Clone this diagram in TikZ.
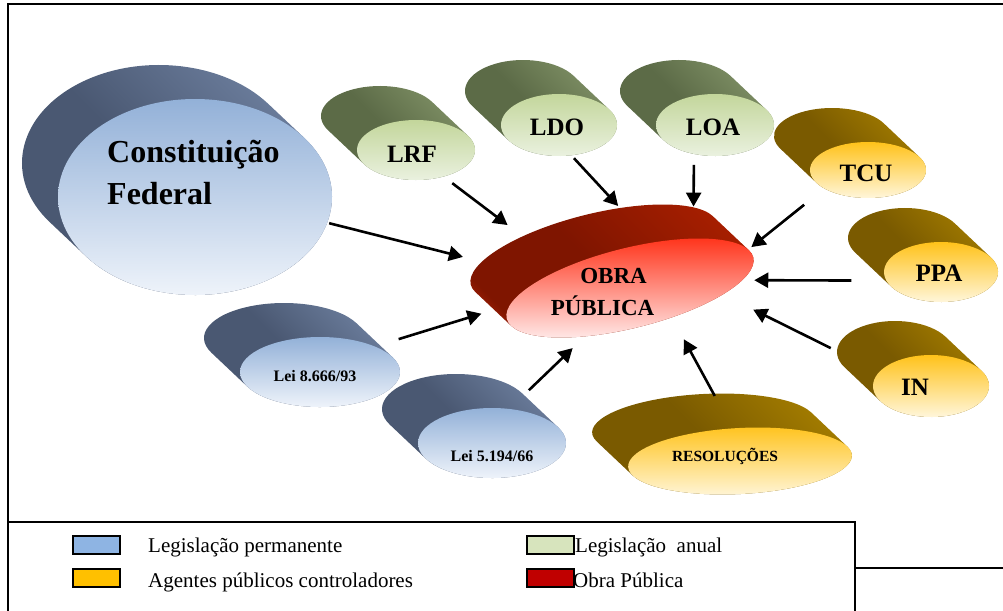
\documentclass[tikz,border=0pt]{standalone}
\usepackage{fontspec}
\setmainfont{Liberation Serif}
\usepackage{tikz}
\usetikzlibrary{
  arrows.meta,
  shapes.geometric,
  positioning,
  calc
}
% face / side colours per group
\definecolor{obPermTop}{HTML}{93B1D8}
\definecolor{obPermLow}{HTML}{EEF3FA}
\definecolor{obPermSide}{HTML}{4A5872}
\definecolor{obPermRim}{HTML}{8DA3C6}
\definecolor{obPermBack}{HTML}{7E92B4}
\definecolor{obAnualTop}{HTML}{C3D69B}
\definecolor{obAnualLow}{HTML}{EAF1DF}
\definecolor{obAnualSide}{HTML}{5C6B47}
\definecolor{obAnualRim}{HTML}{A9BB8C}
\definecolor{obAnualBack}{HTML}{92A476}
\definecolor{obCtrlTop}{HTML}{FFC21A}
\definecolor{obCtrlLow}{HTML}{FFF6DA}
\definecolor{obCtrlSide}{HTML}{7A5A00}
\definecolor{obCtrlRim}{HTML}{E8B000}
\definecolor{obCtrlBack}{HTML}{B68C00}
\definecolor{obObraTop}{HTML}{FF2A10}
\definecolor{obObraLow}{HTML}{FFF2F2}
\definecolor{obObraSide}{HTML}{7F1500}
\definecolor{obObraRim}{HTML}{E03010}
\definecolor{obObraBack}{HTML}{B52200}
% legend swatches
\definecolor{obLegPerm}{HTML}{8EB4E3}
\definecolor{obLegAnual}{HTML}{D7E4BD}
\definecolor{obLegCtrl}{HTML}{FFC000}
\definecolor{obLegObra}{HTML}{C00000}
% side shadings: light rim, dark band, lighter back
\pgfdeclarehorizontalshading{sidePerm}{100bp}{color(0bp)=(obPermRim); color(17bp)=(obPermRim); color(27bp)=(obPermSide); color(48bp)=(obPermSide); color(85bp)=(obPermBack); color(100bp)=(obPermBack)}
\pgfdeclarehorizontalshading{sideAnual}{100bp}{color(0bp)=(obAnualRim); color(17bp)=(obAnualRim); color(27bp)=(obAnualSide); color(48bp)=(obAnualSide); color(85bp)=(obAnualBack); color(100bp)=(obAnualBack)}
\pgfdeclarehorizontalshading{sideCtrl}{100bp}{color(0bp)=(obCtrlRim); color(17bp)=(obCtrlRim); color(27bp)=(obCtrlSide); color(48bp)=(obCtrlSide); color(85bp)=(obCtrlBack); color(100bp)=(obCtrlBack)}
\pgfdeclarehorizontalshading{sideObra}{100bp}{color(0bp)=(obObraRim); color(17bp)=(obObraRim); color(27bp)=(obObraSide); color(48bp)=(obObraSide); color(85bp)=(obObraBack); color(100bp)=(obObraBack)}
\tikzset{
  side perm/.style={shading=sidePerm, shading angle=45},
  side anual/.style={shading=sideAnual, shading angle=45},
  side ctrl/.style={shading=sideCtrl, shading angle=45},
  side obra/.style={shading=sideObra, shading angle=45},
  face perm/.style={top color=obPermTop, bottom color=obPermLow},
  face anual/.style={top color=obAnualTop, bottom color=obAnualLow},
  face ctrl/.style={top color=obCtrlTop, bottom color=obCtrlLow},
  face obra/.style={top color=obObraTop, bottom color=obObraLow},
  lbl/.style={font=\fontsize{25}{30}\selectfont\bfseries, anchor=base, inner sep=0pt},
  small lbl/.style={lbl, font=\fontsize{16}{19}\selectfont\bfseries},
  flow/.style={-{Triangle[length=14pt, width=15pt]}, line width=2.6pt},
  frame/.style={line width=1.5pt},
  swatch/.style={draw, line width=1.2pt, minimum width=47pt, minimum height=18pt, inner sep=0pt, outer sep=0pt, anchor=north west},
  legtext/.style={font=\fontsize{21}{25}\selectfont, anchor=base west, inner sep=0pt}
}
% oblique disk: name, centre, x radius, y radius, rotation, group
\newcommand\lawdisk[6]{%
  \begin{scope}[shift={(#2)}, rotate=#5]
    \pgfmathsetmacro\dox{-36*cos(#5)+34*sin(#5)}%
    \pgfmathsetmacro\doy{36*sin(#5)+34*cos(#5)}%
    \pgfmathsetmacro\ta{atan2(-(#4)*(\dox), (#3)*(\doy))}%
    \shade[side #6] (\ta:#3pt and #4pt) ++(\dox pt,\doy pt)
      arc[start angle=\ta, delta angle=180, x radius=#3pt, y radius=#4pt]
      -- (\ta+180:#3pt and #4pt)
      arc[start angle=\ta+180, delta angle=180, x radius=#3pt, y radius=#4pt] -- cycle;
    \node[face #6, ellipse, inner sep=0pt, outer sep=0pt, minimum width=#3*2pt, minimum height=#4*2pt, transform shape] (#1) at (0,0) {};
  \end{scope}}

\begin{document}
\begin{tikzpicture}[x=1pt, y=-1pt]
  \useasboundingbox (0,0) rectangle (1003,610);
  \clip (0,0) rectangle (1003,610);
  \draw[frame] (8,4) rectangle (1020,568);

  % disks
  \lawdisk{cf}{195,197}{137}{98}{0}{perm}
  \lawdisk{lrf}{416,150}{59}{30}{0}{anual}
  \lawdisk{ldo}{559,125}{58}{31}{0}{anual}
  \lawdisk{loa}{715,125}{59}{31}{0}{anual}
  \lawdisk{tcu}{868,170}{58}{28}{0}{ctrl}
  \lawdisk{ppa}{941,272}{57}{30}{0}{ctrl}
  \lawdisk{inorm}{931,386}{58}{31}{0}{ctrl}
  \lawdisk{lei8666}{320,372}{80}{35}{0}{perm}
  \lawdisk{lei5194}{492,443}{74}{35}{0}{perm}
  \lawdisk{res}{740,461}{112}{33}{3}{ctrl}
  \lawdisk{obra}{630,288}{127}{40}{14}{obra}

  % labels
  \node[lbl, font=\fontsize{32}{42}\selectfont\bfseries, align=left, anchor=base west] (cf-t) at (107,204) {Constituição\\Federal};
  \node[lbl] (lrf-t) at (412,162) {LRF};
  \node[lbl] (ldo-t) at (557,135) {LDO};
  \node[lbl] (loa-t) at (713,135) {LOA};
  \node[lbl] (tcu-t) at (866,181) {TCU};
  \node[lbl] (ppa-t) at (939,281) {PPA};
  \node[lbl] (inorm-t) at (915,395) {IN};
  \node[small lbl] (lei8666-t) at (315,381) {Lei 8.666/93};
  \node[small lbl] (lei5194-t) at (492,461) {Lei 5.194/66};
  \node[small lbl, font=\fontsize{15.5}{18}\selectfont\bfseries] (res-t) at (725,461) {RESOLUÇÕES};
  \node[lbl, font=\fontsize{23}{32}\selectfont\bfseries, align=center] (obra-t) at (602.5,315) {\hspace*{22pt}OBRA\\PÚBLICA};

  % arrows into the obra
  \draw[flow, shorten <=2pt, shorten >=84pt] (cf.-11) -- (obra.159);
  \draw[flow, shorten <=11pt, shorten >=71pt] (lrf.-44) -- (obra.149);
  \draw[flow, shorten <=4pt, shorten >=50pt] (ldo.-68) -- (obra.50);
  \draw[flow, shorten <=11pt, shorten >=32pt] (loa.-126) -- (obra.24);
  \draw[flow, shorten <=26pt, shorten >=4pt] (tcu.-157) -- (obra.4);
  \draw[flow, shorten <=35pt, shorten >=12pt] (ppa.-171) -- (obra.-10);
  \draw[flow, shorten <=54pt, shorten >=34pt] (inorm.165) -- (obra.-18);
  \draw[flow, shorten <=37pt, shorten >=25pt] (res.100) -- (obra.-49);
  \draw[flow, shorten <=27pt, shorten >=17pt] (lei5194.63) -- (obra.-147);
  \draw[flow, shorten <=25pt, shorten >=30pt] (lei8666.25) -- (obra.174);

  % legend
  \draw[frame, fill=white] (8,522) rectangle (855,640);
  \node[swatch, fill=obLegPerm] (sw-perm) at (73,536) {};
  \node[legtext] (leg-perm) at (148,552) {Legislação permanente};
  \node[swatch, fill=obLegCtrl] (sw-ctrl) at (73,569) {};
  \node[legtext] (leg-ctrl) at (148,587) {Agentes públicos controladores};
  \node[swatch, fill=obLegAnual] (sw-anual) at (527,536) {};
  \node[legtext] (leg-anual) at (575,552) {Legislação\ \ anual};
  \node[swatch, fill=obLegObra] (sw-obra) at (527,569) {};
  \node[legtext] (leg-obra) at (573,587) {Obra Pública};
\end{tikzpicture}
\end{document}
